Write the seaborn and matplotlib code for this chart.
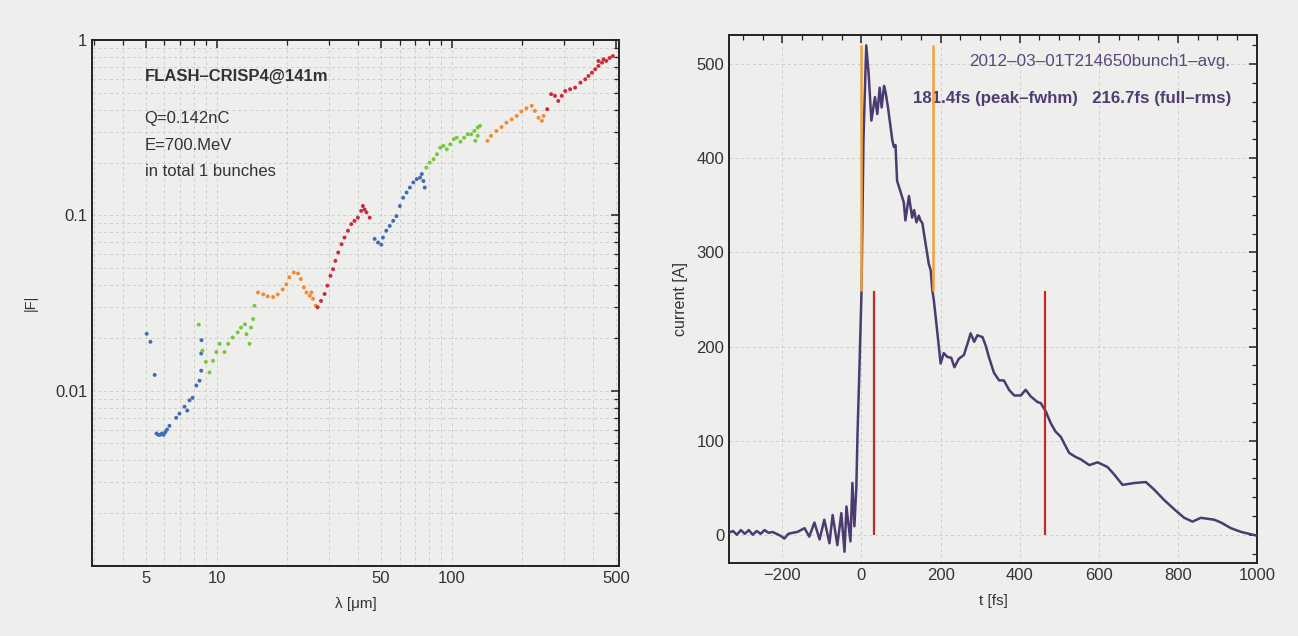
import numpy as np
import pandas as pd
import seaborn as sns
import matplotlib
matplotlib.use("Agg")
import matplotlib.pyplot as plt
from matplotlib.ticker import FixedLocator, NullFormatter, MultipleLocator, LogLocator

# ---------------- data: left panel (form factor |F| vs wavelength) ----------------
blue1_lam = [5.04, 5.23, 5.45, 5.55, 5.65, 5.75, 5.85, 5.95, 6.05, 6.15, 6.3, 6.73, 6.95, 7.3, 7.5, 7.67, 7.9, 8.2, 8.46, 8.6, 8.6, 8.62]
blue1_F = [0.0211, 0.019, 0.0123, 0.0057, 0.0056, 0.0056, 0.0057, 0.0056, 0.0058, 0.0060, 0.0063, 0.0070, 0.0074, 0.0081, 0.0077, 0.0088, 0.0091, 0.0107, 0.0114, 0.0130, 0.0163, 0.0194]

green1_lam = [8.4, 8.7, 9.0, 9.33, 9.65, 9.97, 10.3, 10.8, 11.2, 11.7, 12.3, 12.7, 13.2, 13.4, 13.8, 14.0, 14.3, 14.5]
green1_F = [0.0238, 0.0169, 0.0146, 0.0127, 0.0148, 0.0166, 0.0185, 0.0166, 0.0185, 0.0201, 0.0215, 0.0229, 0.0239, 0.021, 0.0185, 0.0229, 0.0256, 0.0305]

orange1_lam = [15.0, 15.8, 16.5, 17.4, 18.2, 19.1, 19.8, 20.4, 21.3, 22.2, 22.8, 23.5, 24.1, 24.9, 25.3, 25.7, 26.4]
orange1_F = [0.0363, 0.0354, 0.0345, 0.0342, 0.0354, 0.0378, 0.0404, 0.0443, 0.0472, 0.0466, 0.0433, 0.0388, 0.0363, 0.0348, 0.0363, 0.0334, 0.0305]

red1_lam = [26.9, 27.8, 28.8, 29.6, 30.5, 31.3, 32.0, 32.9, 34.0, 35.0, 36.2, 37.4, 38.6, 39.9, 41.2, 41.9, 42.6, 43.4, 44.8]
red1_F = [0.0299, 0.0325, 0.0356, 0.0397, 0.0452, 0.0493, 0.0550, 0.0614, 0.0684, 0.0747, 0.0817, 0.0891, 0.093, 0.097, 0.106, 0.113, 0.108, 0.104, 0.097]

blue2_lam = [47.0, 48.6, 50.2, 51.0, 52.7, 54.5, 56.4, 58.2, 60.2, 62.2, 64.3, 66.4, 68.7, 71.0, 73.4, 74.6, 75.8, 76.8]
blue2_F = [0.0734, 0.070, 0.068, 0.0747, 0.0817, 0.087, 0.093, 0.099, 0.113, 0.126, 0.135, 0.144, 0.154, 0.161, 0.164, 0.172, 0.157, 0.144]

green2_lam = [78.0, 80.6, 83.8, 86.6, 89.4, 92.3, 95.4, 98.6, 102, 105, 109, 113, 117, 121, 125, 126, 129, 129, 132]
green2_F = [0.187, 0.200, 0.209, 0.223, 0.243, 0.249, 0.238, 0.254, 0.272, 0.277, 0.263, 0.277, 0.290, 0.290, 0.303, 0.266, 0.317, 0.284, 0.324]

orange2_lam = [142, 147, 155, 163, 171, 180, 189, 198, 208, 219, 226, 234, 242, 246]
orange2_F = [0.266, 0.284, 0.303, 0.319, 0.338, 0.353, 0.369, 0.391, 0.408, 0.421, 0.394, 0.360, 0.346, 0.369]

red2_lam = [255, 265, 275, 284, 294, 304, 319, 335, 353, 370, 382, 395, 408, 421, 421, 436, 443, 455, 470, 485]
red2_F = [0.403, 0.491, 0.48, 0.449, 0.48, 0.512, 0.524, 0.535, 0.571, 0.597, 0.624, 0.651, 0.681, 0.711, 0.759, 0.743, 0.776, 0.76, 0.79, 0.81]

segments = [("b1", blue1_lam, blue1_F), ("g1", green1_lam, green1_F),
            ("o1", orange1_lam, orange1_F), ("r1", red1_lam, red1_F),
            ("b2", blue2_lam, blue2_F), ("g2", green2_lam, green2_F),
            ("o2", orange2_lam, orange2_F), ("r2", red2_lam, red2_F)]

# ---------------- data: right panel (current profile) ----------------
t_fs = [-335, -325, -315, -305, -295, -285, -275, -265, -255, -245, -235, -225, -215, -205,
        -195, -185, -175, -162, -144, -132, -119, -106, -94, -81, -73, -61, -51, -43, -38,
        -28, -23, -18, -13, -10, -5, 0, 5, 12, 18, 25, 34, 40, 46, 51, 57, 61, 67, 78, 82,
        86, 90, 99, 107, 111, 120, 128, 133, 139, 145, 149, 154, 158, 166, 170, 175, 179,
        183, 192, 200, 208, 217, 227, 235, 246, 259, 268, 276, 285, 293, 306, 314, 322,
        335, 348, 360, 373, 386, 403, 415, 428, 445, 453, 466, 478, 490, 504, 515, 525,
        540, 555, 576, 597, 622, 639, 660, 690, 719, 740, 765, 791, 816, 837, 858, 892,
        909, 934, 960, 980, 1000]
current_A = [2, 4, 0, 5, 1, 5, 0, 4, 1, 5, 2, 3, 1, -1,
             -4, 1, 2, 3, 7, -2, 13, -5, 16, -9, 21, -11, 23, -18, 30,
             -7, 55, 9, 51, 108, 180, 258, 420, 520, 490, 440, 465, 447, 475, 454, 477, 470, 454, 419, 412,
             414, 376, 364, 353, 334, 360, 337, 345, 332, 339, 334, 331, 320, 299, 288, 281, 260,
             249, 214, 182, 193, 189, 188, 178, 187, 191, 203, 214, 205, 212, 210, 201, 189,
             172, 164, 164, 154, 148, 148, 154, 147, 141, 140, 131, 119, 110, 104, 95, 87,
             83, 80, 74, 77, 72, 64, 53, 55, 56, 48, 37, 27, 18, 14, 18, 16,
             13, 7, 3, 1, -1]

fwhm_edges = [-1, 180.4]
rms_edges = [31, 464.5]
peak_current = 520
half_current = 259

bg = "#eeeeec"
sns.set_theme(style="white")
plt.rcParams["font.family"] = ["Liberation Sans", "DejaVu Sans"]

fig = plt.figure(figsize=(12.98, 6.36), dpi=100, facecolor=bg)
axL = fig.add_axes([92/1298, 1-566/636, (619-92)/1298, (566-40)/636])
axR = fig.add_axes([729/1298, 1-563/636, (1257-729)/1298, (563-35)/636])

# ---------------- left panel ----------------
rows = []
for name, lam, F in segments:
    for a, b in zip(lam, F):
        rows.append((name, a, b))
df = pd.DataFrame(rows, columns=["seg", "lam", "F"])
blue, green, orange, red = "#3f6db3", "#74c83c", "#f28a30", "#cc2a3a"
pal = {"b1": blue, "g1": green, "o1": orange, "r1": red,
       "b2": blue, "g2": green, "o2": orange, "r2": red}
axL.set_facecolor(bg)
sns.scatterplot(data=df, x="lam", y="F", hue="seg", palette=pal, legend=False,
                s=8, linewidth=0, ax=axL, zorder=3)
axL.set_xscale("log")
axL.set_yscale("log")
axL.set_xlim(2.95, 515)
axL.set_ylim(0.001, 1)
axL.xaxis.set_major_locator(FixedLocator([5, 10, 50, 100, 500]))
axL.xaxis.set_major_formatter(matplotlib.ticker.FixedFormatter(["5", "10", "50", "100", "500"]))
axL.xaxis.set_minor_locator(FixedLocator([3, 4, 6, 7, 8, 9, 20, 30, 40, 60, 70, 80, 90, 200, 300, 400]))
axL.xaxis.set_minor_formatter(NullFormatter())
axL.yaxis.set_major_locator(FixedLocator([0.001, 0.01, 0.1, 1]))
axL.yaxis.set_major_formatter(matplotlib.ticker.FixedFormatter(["", "0.01", "0.1", "1"]))
axL.yaxis.set_minor_locator(LogLocator(base=10, subs=np.arange(2, 10)))
axL.yaxis.set_minor_formatter(NullFormatter())
axL.grid(which="both", ls=(0, (3, 3)), color="#cdcdcd", lw=0.7)
axL.set_xlabel("λ [μm]", fontsize=11, color="#333333", labelpad=8)
axL.set_ylabel("|F|", fontsize=10.5, color="#333333", labelpad=12)
axL.text(0.10, 0.93, "FLASH\u2013CRISP4@141m", transform=axL.transAxes, fontsize=12,
         fontweight="bold", color="#333333", va="center")
axL.text(0.10, 0.85, "Q=0.142nC", transform=axL.transAxes, fontsize=12, color="#333333", va="center")
axL.text(0.10, 0.80, "E=700.MeV", transform=axL.transAxes, fontsize=12, color="#333333", va="center")
axL.text(0.10, 0.75, "in total 1 bunches", transform=axL.transAxes, fontsize=12, color="#333333", va="center")

# ---------------- right panel ----------------
axR.set_facecolor(bg)
sns.lineplot(x=t_fs, y=current_A, color="#4b3b70", lw=1.8, estimator=None, sort=False, ax=axR, zorder=3)
axR.vlines(fwhm_edges, half_current, peak_current, color="#f2a23a", lw=1.8, zorder=4)
axR.vlines(rms_edges, 0, half_current, color="#c0282b", lw=1.6, zorder=4)
axR.set_xlim(-335, 1000)
axR.set_ylim(-30, 531)
axR.xaxis.set_major_locator(MultipleLocator(200))
axR.xaxis.set_minor_locator(MultipleLocator(50))
axR.yaxis.set_major_locator(MultipleLocator(100))
axR.yaxis.set_minor_locator(MultipleLocator(20))
axR.xaxis.set_major_formatter(matplotlib.ticker.FuncFormatter(lambda v, p: f"{int(v)}".replace("-", "\u2212")))
axR.grid(which="major", ls=(0, (3, 3)), color="#cdcdcd", lw=0.7)
axR.set_xlabel("t [fs]", fontsize=11, color="#333333", labelpad=8)
axR.set_ylabel("current [A]", fontsize=11.5, color="#333333", labelpad=6)
axR.text(0.95, 0.949, "2012\u201303\u201301T214650bunch1\u2013avg.", transform=axR.transAxes,
         fontsize=12.3, color="#5b4780", ha="right", va="center")
axR.text(0.952, 0.879, "181.4fs (peak\u2013fwhm)   216.7fs (full\u2013rms)", transform=axR.transAxes,
         fontsize=12.2, color="#4f3d72", fontweight="bold", ha="right", va="center")

for ax in (axL, axR):
    for sp in ax.spines.values():
        sp.set_visible(True)
        sp.set_color("#222222")
        sp.set_linewidth(1.4)
    ax.tick_params(which="both", direction="in", top=True, right=True, color="#222222",
                   labelsize=12, labelcolor="#333333")
    ax.tick_params(which="major", length=6, width=1.1)
    ax.tick_params(which="minor", length=3.5, width=0.9)

fig.savefig("out.png", dpi=100, facecolor=bg)
